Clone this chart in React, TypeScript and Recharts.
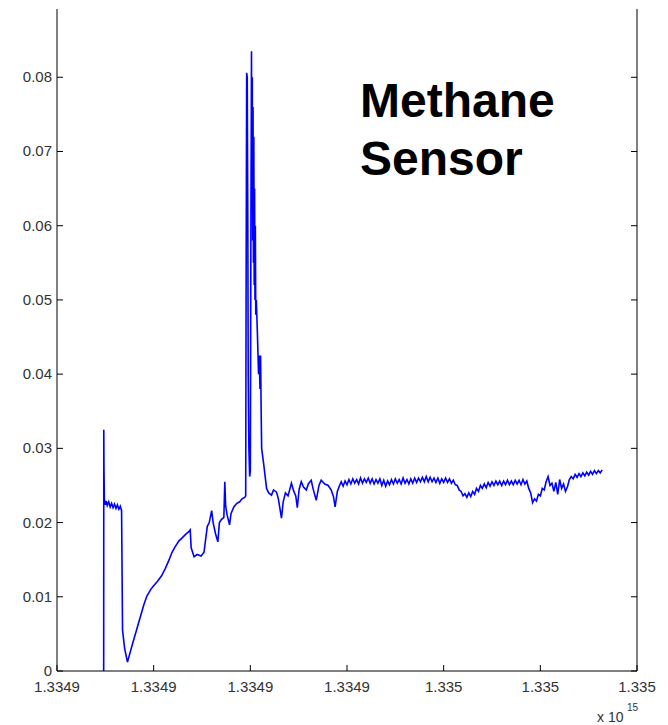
import { LineChart, Line, XAxis, YAxis } from 'recharts'

// x in tick steps (1 step = 2e10 on the x 10^15 axis), y = methane sensor reading
const xTicks = [0, 1, 2, 3, 4, 5, 6]
const xTickLabels = ['1.3349', '1.3349', '1.3349', '1.3349', '1.335', '1.335', '1.335']
const yTicks = [0, 0.01, 0.02, 0.03, 0.04, 0.05, 0.06, 0.07, 0.08]
const yTickLabels = ['0', '0.01', '0.02', '0.03', '0.04', '0.05', '0.06', '0.07', '0.08']

const time = [
    0.483, 0.484, 0.486, 0.49, 0.5, 0.51, 0.52, 0.535, 0.55, 0.565, 0.58, 0.595, 0.61, 0.625, 0.64,
    0.655, 0.668, 0.678, 0.7, 0.729, 0.78, 0.82, 0.86, 0.9, 0.93, 0.97, 1.0, 1.04, 1.08, 1.12,
    1.16, 1.19, 1.22, 1.26, 1.3, 1.33, 1.366, 1.378, 1.388, 1.418, 1.45, 1.49, 1.521, 1.54, 1.555,
    1.575, 1.6, 1.615, 1.64, 1.664, 1.68, 1.7, 1.726, 1.736, 1.745, 1.76, 1.785, 1.8, 1.829, 1.86,
    1.89, 1.914, 1.942, 1.952, 1.956, 1.962, 1.968, 1.974, 1.978, 1.985, 1.993, 2.0, 2.006, 2.012, 2.016,
    2.02, 2.024, 2.028, 2.032, 2.036, 2.04, 2.044, 2.048, 2.052, 2.056, 2.062, 2.072, 2.085, 2.092, 2.1,
    2.106, 2.112, 2.117, 2.137, 2.168, 2.19, 2.219, 2.24, 2.271, 2.29, 2.322, 2.34, 2.363, 2.39, 2.425,
    2.45, 2.47, 2.486, 2.505, 2.527, 2.55, 2.579, 2.6, 2.63, 2.65, 2.682, 2.71, 2.733, 2.77, 2.805,
    2.836, 2.86, 2.877, 2.9, 2.92, 2.94, 2.96, 2.98, 3.0, 3.02, 3.04, 3.06, 3.08, 3.1, 3.12,
    3.14, 3.16, 3.18, 3.2, 3.22, 3.24, 3.26, 3.28, 3.3, 3.32, 3.34, 3.36, 3.38, 3.4, 3.42,
    3.44, 3.46, 3.48, 3.5, 3.52, 3.54, 3.56, 3.58, 3.6, 3.62, 3.64, 3.66, 3.68, 3.7, 3.72,
    3.74, 3.76, 3.78, 3.8, 3.82, 3.84, 3.86, 3.88, 3.9, 3.92, 3.94, 3.96, 3.98, 4.0, 4.02,
    4.04, 4.06, 4.08, 4.1, 4.12, 4.14, 4.16, 4.18, 4.2, 4.22, 4.24, 4.26, 4.28, 4.3, 4.32,
    4.34, 4.36, 4.38, 4.4, 4.42, 4.44, 4.46, 4.48, 4.5, 4.52, 4.54, 4.56, 4.58, 4.6, 4.62,
    4.64, 4.66, 4.68, 4.7, 4.72, 4.74, 4.76, 4.78, 4.8, 4.82, 4.84, 4.86, 4.88, 4.9, 4.92,
    4.94, 4.96, 4.98, 5.0, 5.02, 5.04, 5.06, 5.08, 5.1, 5.12, 5.14, 5.16, 5.18, 5.2, 5.22,
    5.24, 5.26, 5.28, 5.3, 5.32, 5.34, 5.36, 5.38, 5.4, 5.42, 5.44, 5.46, 5.48, 5.5, 5.52,
    5.54, 5.56, 5.58, 5.6, 5.62, 5.64
]
const methane = [
    0, 0.0325, 0.0275, 0.0232, 0.0224, 0.0229, 0.0223, 0.0228, 0.0221, 0.0226, 0.022, 0.0225, 0.0219, 0.0224, 0.0218,
    0.0222, 0.0216, 0.0055, 0.003, 0.0012, 0.0036, 0.0054, 0.0072, 0.009, 0.0101, 0.011, 0.0115, 0.0121, 0.0128, 0.0138,
    0.015, 0.016, 0.0167, 0.0175, 0.018, 0.0184, 0.0188, 0.019, 0.0166, 0.0154, 0.0157, 0.0155, 0.016, 0.018, 0.0195,
    0.02, 0.0216, 0.02, 0.0185, 0.0174, 0.02, 0.0204, 0.0207, 0.0255, 0.0222, 0.021, 0.0197, 0.0212, 0.0221, 0.0226,
    0.0228, 0.0232, 0.0234, 0.0236, 0.0496, 0.0806, 0.08, 0.06, 0.04, 0.03, 0.0262, 0.027, 0.06, 0.0835, 0.062,
    0.08, 0.058, 0.076, 0.055, 0.072, 0.052, 0.065, 0.05, 0.06, 0.048, 0.05, 0.046, 0.04, 0.0425, 0.038,
    0.0425, 0.035, 0.03, 0.028, 0.0246, 0.024, 0.0237, 0.0244, 0.0241, 0.0232, 0.0206, 0.0228, 0.024, 0.0236, 0.0253,
    0.0242, 0.0236, 0.022, 0.0245, 0.0255, 0.0248, 0.0244, 0.0252, 0.0257, 0.0245, 0.023, 0.025, 0.0257, 0.0252, 0.025,
    0.0244, 0.0235, 0.0221, 0.0242, 0.0249, 0.0255, 0.0249, 0.0256, 0.0251, 0.0258, 0.0252, 0.0259, 0.0253, 0.0258, 0.0252,
    0.026, 0.0253, 0.0259, 0.0254, 0.026, 0.0253, 0.0259, 0.0252, 0.0258, 0.0253, 0.0259, 0.025, 0.0257, 0.0249, 0.0256,
    0.0251, 0.0258, 0.0252, 0.0259, 0.0253, 0.0258, 0.0252, 0.026, 0.0253, 0.0258, 0.0252, 0.0259, 0.0253, 0.026, 0.0254,
    0.026, 0.0255, 0.0261, 0.0255, 0.0262, 0.0255, 0.0261, 0.0255, 0.026, 0.0254, 0.026, 0.0253, 0.0259, 0.0254, 0.026,
    0.0254, 0.0259, 0.0253, 0.0257, 0.0251, 0.025, 0.0244, 0.0242, 0.0236, 0.0239, 0.0234, 0.024, 0.0235, 0.0242, 0.0238,
    0.0246, 0.0242, 0.025, 0.0246, 0.0252, 0.0247, 0.0254, 0.0249, 0.0255, 0.025, 0.0256, 0.0251, 0.0256, 0.025, 0.0256,
    0.0251, 0.0257, 0.0251, 0.0256, 0.0251, 0.0257, 0.0252, 0.0257, 0.0251, 0.0258, 0.0252, 0.0256, 0.0246, 0.024, 0.0227,
    0.0232, 0.0229, 0.0238, 0.0236, 0.0246, 0.0244, 0.0255, 0.0262, 0.025, 0.0253, 0.0242, 0.0254, 0.0238, 0.0258, 0.0246,
    0.0252, 0.0242, 0.0248, 0.0258, 0.0262, 0.0259, 0.0265, 0.0261, 0.0266, 0.0262, 0.0267, 0.0263, 0.0268, 0.0264, 0.0269,
    0.0265, 0.027, 0.0266, 0.027, 0.0267, 0.0271
]

const data = time.map((t, i) => ({ t, v: methane[i] }))

const font = '"Liberation Sans", Arial, sans-serif'
const TICK = 6

function BottomTick({ x, y, index }: any) {
    return (
        <g>
            <line x1={x} x2={x} y1={y} y2={y - TICK} stroke="#000" />
            <text x={x} y={y + 21} textAnchor="middle" fontSize={15} fontFamily={font} fill="#333">
                {xTickLabels[index]}
            </text>
        </g>
    )
}

function TopTick({ x, y }: any) {
    return <line x1={x} x2={x} y1={y} y2={y + TICK} stroke="#000" />
}

function LeftTick({ x, y, index }: any) {
    return (
        <g>
            <line x1={x} x2={x + TICK} y1={y} y2={y} stroke="#000" />
            <text x={x - 5} y={y + 5} textAnchor="end" fontSize={15} fontFamily={font} fill="#333">
                {yTickLabels[index]}
            </text>
        </g>
    )
}

function RightTick({ x, y }: any) {
    return <line x1={x} x2={x - TICK} y1={y} y2={y} stroke="#000" />
}

export default function App() {
    return (
        <div style={{ position: 'absolute', left: 0, top: 0, width: 668, height: 725, background: '#fff' }}>
            <LineChart width={668} height={725} data={data} margin={{ top: 9, right: 0, bottom: 0, left: 0 }}>
                <XAxis
                    xAxisId="b"
                    dataKey="t"
                    type="number"
                    domain={[0, 6]}
                    ticks={xTicks}
                    height={54}
                    tickSize={0}
                    tickMargin={0}
                    tickLine={false}
                    axisLine={{ stroke: '#000' }}
                    tick={<BottomTick />}
                    interval={0}
                />
                <XAxis
                    xAxisId="top"
                    orientation="top"
                    dataKey="t"
                    type="number"
                    domain={[0, 6]}
                    ticks={xTicks}
                    height={0}
                    tickSize={0}
                    tickMargin={0}
                    tickLine={false}
                    axisLine={false}
                    tick={<TopTick />}
                    interval={0}
                />
                <YAxis
                    yAxisId="l"
                    type="number"
                    domain={[0, 0.0892]}
                    allowDataOverflow
                    ticks={yTicks}
                    width={57}
                    tickSize={0}
                    tickMargin={0}
                    tickLine={false}
                    axisLine={{ stroke: '#000' }}
                    tick={<LeftTick />}
                    interval={0}
                />
                <YAxis
                    yAxisId="r"
                    orientation="right"
                    type="number"
                    domain={[0, 0.0892]}
                    allowDataOverflow
                    ticks={yTicks}
                    width={31}
                    tickSize={0}
                    tickMargin={0}
                    tickLine={false}
                    axisLine={{ stroke: '#000' }}
                    tick={<RightTick />}
                    interval={0}
                />
                <Line
                    xAxisId="b"
                    yAxisId="l"
                    dataKey="v"
                    stroke="#0000ff"
                    strokeWidth={1.6}
                    dot={false}
                    isAnimationActive={false}
                />
            </LineChart>
            <svg width={668} height={725} style={{ position: 'absolute', left: 0, top: 0, pointerEvents: 'none' }}>
                <text x={360} y={117} fontSize={48} fontWeight="bold" fontFamily={font} fill="#000">Methane</text>
                <text x={360} y={175} fontSize={48} fontWeight="bold" fontFamily={font} fill="#000">Sensor</text>
                <text x={597} y={722} fontSize={14} fontFamily={font} fill="#333">x 10</text>
                <text x={627} y={711} fontSize={10} fontFamily={font} fill="#333">15</text>
            </svg>
        </div>
    )
}
